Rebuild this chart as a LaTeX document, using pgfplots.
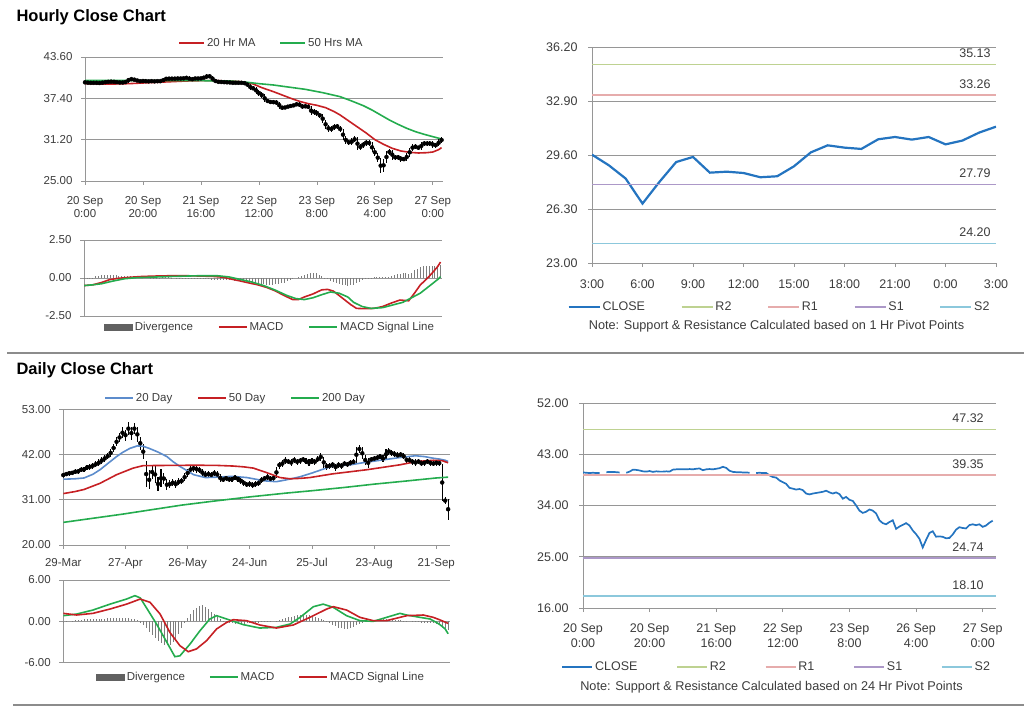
\documentclass[border=0pt]{standalone}
\usepackage{pgfplots}
\pgfplotsset{compat=1.18}
\usepackage{pgfplotstable}
\usepackage{fontspec}
\setmainfont{Liberation Sans}

\definecolor{maRed}{RGB}{198,32,36}
\definecolor{maGreen}{RGB}{36,172,78}
\definecolor{dayBlue}{RGB}{92,140,204}
\definecolor{closeBlue}{RGB}{36,116,192}
\definecolor{rTwo}{RGB}{190,210,145}
\definecolor{rOne}{RGB}{230,172,172}
\definecolor{sOne}{RGB}{172,152,200}
\definecolor{sTwo}{RGB}{140,200,220}
\definecolor{gridGray}{RGB}{150,150,150}
\definecolor{divGray}{RGB}{125,125,125}
\definecolor{sepGray}{RGB}{140,140,140}
\definecolor{txt}{RGB}{60,60,60}

\newcommand{\tickfont}{\fontsize{11.5}{13}\selectfont}
\newcommand{\legfont}{\fontsize{11.5}{13}\selectfont}

% hourly bars: hour, close, high, low, MACD divergence
\pgfplotstableread{
h c hi lo dv
0 39.80 40.00 39.60 -0.05
1 39.75 39.95 39.55 -0.04
2 39.70 39.95 39.50 -0.03
3 39.75 39.95 39.50 0.02
4 39.70 39.95 39.50 0.10
5 39.70 39.90 39.50 0.14
6 nan 39.95 39.55 0.17
7 39.85 40.05 39.60 0.20
8 39.90 40.10 39.65 0.22
9 39.90 40.10 39.70 0.22
10 39.85 40.10 39.65 0.20
11 39.80 40.05 39.60 0.18
12 nan 40.00 39.55 0.15
13 39.75 40.00 39.55 0.12
14 39.95 40.15 39.55 0.12
15 40.30 40.50 39.75 0.10
16 40.25 40.50 40.05 0.10
17 40.15 40.45 39.95 0.08
18 40.00 40.35 39.80 0.06
19 39.95 40.20 39.75 0.05
20 40.05 40.25 39.75 0.05
21 39.90 40.25 39.70 0.04
22 40.00 40.20 39.70 0.04
23 39.95 40.20 39.75 0.03
24 39.95 40.15 39.75 0.03
25 40.00 40.20 39.75 0.02
26 39.95 40.20 39.75 0.02
27 40.30 40.50 39.75 0.05
28 40.35 40.55 40.10 0.06
29 40.35 40.55 40.15 0.04
30 40.35 40.55 40.15 0.02
31 40.35 40.55 40.15 0.00
32 40.40 40.60 40.15 -0.02
33 40.35 40.60 40.15 -0.03
34 40.45 40.65 40.15 -0.04
35 40.50 40.70 40.25 -0.05
36 40.20 40.70 40.00 -0.05
37 40.35 40.55 40.00 -0.05
38 40.40 40.60 40.15 -0.06
39 40.35 40.60 40.15 -0.06
40 40.45 40.65 40.15 -0.07
41 40.55 40.75 40.25 -0.07
42 40.80 41.00 40.35 -0.08
43 40.60 41.00 40.40 -0.08
44 40.10 40.80 39.90 -0.10
45 39.90 40.30 39.70 -0.10
46 39.85 40.10 39.65 -0.12
47 39.85 40.05 39.65 -0.12
48 39.80 40.05 39.60 -0.13
49 39.80 40.00 39.60 -0.14
50 39.75 40.00 39.55 -0.15
51 nan 39.95 39.50 -0.16
52 39.70 39.95 39.50 -0.18
53 39.75 39.95 39.50 -0.20
54 39.70 39.95 39.50 -0.22
55 39.70 39.90 39.45 -0.25
56 39.30 39.90 39.05 -0.27
57 39.00 39.50 38.70 -0.30
58 38.90 39.20 38.60 -0.32
59 38.40 39.10 38.10 -0.35
60 38.10 38.60 37.80 -0.38
61 37.80 38.30 37.50 -0.40
62 37.10 38.00 36.80 -0.42
63 36.95 37.30 36.70 -0.44
64 36.80 37.15 36.55 -0.45
65 36.90 37.10 36.55 -0.44
66 36.70 37.10 36.45 -0.42
67 36.10 36.90 35.85 -0.40
68 35.95 36.30 35.70 -0.36
69 36.10 36.30 35.75 -0.30
70 36.20 36.40 35.90 -0.22
71 36.30 36.50 36.00 -0.15
72 36.40 36.60 36.10 -0.08
73 36.60 36.80 36.20 0.00
74 36.30 36.80 36.10 0.08
75 36.10 36.50 35.85 0.15
76 36.30 36.50 35.90 0.22
77 36.00 36.50 35.75 0.28
78 35.20 36.20 34.90 0.32
79 35.50 35.80 34.95 0.33
80 35.00 35.70 34.70 0.30
81 34.80 35.20 34.50 0.22
82 34.00 35.00 33.70 0.12
83 33.10 34.20 32.80 0.02
84 32.70 33.40 32.40 -0.08
85 32.90 33.20 32.40 -0.18
86 33.30 33.60 32.60 -0.28
87 33.10 33.60 32.80 -0.36
88 32.60 33.30 32.30 -0.42
89 31.40 32.80 31.10 -0.46
90 30.90 31.70 30.60 -0.48
91 30.70 31.20 30.40 -0.50
92 31.10 31.40 30.40 -0.48
93 31.40 31.70 30.80 -0.44
94 29.90 31.60 29.60 -0.36
95 30.30 30.60 29.60 -0.25
96 30.60 30.90 30.00 -0.15
97 30.90 31.20 30.30 -0.08
98 30.50 31.20 30.20 -0.02
99 29.62 30.80 29.30 0.03
100 28.97 29.90 28.70 0.06
101 28.16 29.20 27.80 0.08
102 26.63 28.40 26.20 0.08
103 27.95 28.30 26.40 0.07
104 29.17 29.50 27.70 0.06
105 29.48 29.80 28.90 0.08
106 28.52 29.70 28.20 0.12
107 28.58 28.90 28.20 0.18
108 28.50 28.90 28.20 0.24
109 28.24 28.80 27.90 0.28
110 28.30 28.60 27.95 0.30
111 28.91 29.20 28.00 0.30
112 29.76 30.00 28.60 0.28
113 30.19 30.50 29.50 0.35
114 30.05 30.50 29.80 0.50
115 29.97 30.30 29.70 0.62
116 30.56 30.80 29.70 0.72
117 30.70 30.95 30.30 0.78
118 30.54 30.95 30.30 0.80
119 30.70 30.95 30.30 0.82
120 30.25 30.95 30.00 0.80
121 30.48 30.75 30.00 0.78
122 30.97 31.25 30.20 0.82
123 31.33 31.60 30.70 0.85
}\hourly

% daily bars: day, close, high, low, MACD divergence
\pgfplotstableread{
d c hi lo dv
0 37.0 37.6 36.4 -0.2
1 37.2 37.8 36.7 -0.1
2 37.4 38.0 36.9 0.0
3 37.6 38.1 37.0 0.1
4 37.8 38.4 37.2 0.2
5 37.9 38.5 37.3 0.2
6 38.3 38.9 37.7 0.25
7 38.4 39.0 37.8 0.3
8 38.8 39.5 38.2 0.3
9 39.0 39.7 38.3 0.3
10 39.3 40.0 38.6 0.35
11 39.6 40.4 38.9 0.35
12 40.0 40.8 39.2 0.4
13 40.6 41.3 39.8 0.4
14 41.0 41.8 40.3 0.4
15 41.5 42.4 40.8 0.45
16 42.4 43.3 41.5 0.45
17 43.6 44.6 42.6 0.5
18 45.0 46.2 44.0 0.5
19 46.0 47.3 45.0 0.5
20 47.2 48.6 46.0 0.5
21 46.5 48.0 45.4 0.5
22 48.0 49.8 46.8 0.45
23 47.0 48.8 45.6 0.4
24 48.5 49.6 47.0 0.35
25 46.0 48.8 45.0 0.2
26 44.5 46.3 43.2 -0.2
27 42.0 44.6 40.8 -0.6
28 35.5 40.5 34.0 -1.0
29 37.0 38.2 33.5 -1.5
30 38.5 39.5 36.0 -2.0
31 36.0 39.3 35.0 -2.4
32 34.5 36.5 33.2 -2.8
33 37.0 38.5 34.0 -3.1
34 35.8 37.5 34.8 -3.4
35 34.5 36.0 33.3 -3.5
36 35.0 35.8 33.8 -3.4
37 35.2 36.0 34.3 -3.0
38 34.8 35.7 33.9 -2.5
39 35.3 36.2 34.5 -1.8
40 35.6 36.4 34.8 -1.0
41 36.5 37.4 35.6 -0.2
42 37.5 38.4 36.6 0.5
43 38.3 39.2 37.5 1.1
44 38.6 39.5 37.8 1.6
45 38.4 39.3 37.6 2.0
46 38.2 39.0 37.4 2.2
47 37.5 38.4 36.8 2.3
48 37.0 37.9 36.3 2.1
49 37.2 38.0 36.5 1.8
50 37.0 37.8 36.3 1.4
51 37.4 38.2 36.7 1.0
52 37.1 37.9 36.4 0.6
53 36.0 37.2 35.4 0.3
54 35.8 36.6 35.2 0.1
55 36.2 36.9 35.6 -0.1
56 35.9 36.6 35.3 -0.2
57 36.0 36.7 35.4 -0.3
58 36.3 37.0 35.7 -0.35
59 36.0 36.8 35.4 -0.4
60 35.5 36.3 34.9 -0.4
61 35.0 35.8 34.4 -0.35
62 34.6 35.4 34.0 -0.3
63 34.8 35.5 34.2 -0.3
64 34.5 35.2 33.9 -0.25
65 34.8 35.5 34.2 -0.2
66 35.0 35.7 34.4 -0.2
67 35.8 36.5 35.1 -0.15
68 36.2 36.9 35.5 -0.1
69 36.5 37.2 35.8 -0.1
70 36.0 36.8 35.4 -0.05
71 36.3 37.0 35.6 0.0
72 38.0 38.9 36.4 0.1
73 39.5 40.3 38.6 0.2
74 39.8 40.6 39.0 0.3
75 40.5 41.3 39.7 0.45
76 40.3 41.0 39.6 0.6
77 40.0 40.8 39.3 0.7
78 40.6 41.4 39.9 0.8
79 40.2 41.0 39.5 0.9
80 40.5 41.2 39.8 0.95
81 40.8 41.5 40.1 1.0
82 40.3 41.1 39.6 0.95
83 40.0 40.8 39.3 0.9
84 40.5 41.2 39.8 0.8
85 40.2 41.0 39.5 0.7
86 40.8 41.6 40.1 0.55
87 41.2 42.4 40.4 0.4
88 39.5 41.5 38.7 0.2
89 39.0 40.0 38.3 -0.1
90 39.2 40.0 38.5 -0.3
91 39.5 40.3 38.8 -0.5
92 38.8 39.8 38.1 -0.7
93 39.5 40.2 38.8 -0.9
94 39.2 40.0 38.5 -1.0
95 39.8 40.5 39.1 -1.1
96 39.6 40.3 38.9 -1.1
97 40.0 40.7 39.3 -1.0
98 40.2 40.9 39.5 -0.8
99 43.0 43.9 40.0 -0.6
100 43.5 44.3 42.4 -0.4
101 41.5 43.8 40.8 -0.2
102 40.2 41.9 39.4 -0.1
103 40.5 41.2 38.8 0.0
104 40.8 41.5 40.1 0.1
105 41.0 41.7 40.3 0.15
106 41.2 41.9 40.5 0.2
107 41.5 42.2 40.8 0.25
108 41.0 41.8 40.3 0.3
109 42.5 43.3 40.8 0.3
110 42.8 43.5 42.0 0.3
111 42.3 43.1 41.6 0.3
112 42.0 42.8 41.3 0.25
113 41.8 42.5 41.1 0.2
114 42.0 42.7 41.3 0.15
115 41.5 42.3 40.8 0.1
116 40.5 41.6 39.8 0.05
117 40.6 41.3 39.9 0.0
118 40.2 41.0 39.5 -0.05
119 40.0 40.8 39.3 -0.1
120 40.3 41.0 39.6 -0.15
121 39.8 40.6 39.1 -0.2
122 40.0 40.7 39.3 -0.2
123 40.3 41.0 39.6 -0.2
124 40.0 40.7 39.3 -0.25
125 39.8 40.5 39.1 -0.3
126 40.0 40.7 39.3 -0.4
127 40.0 40.6 39.2 -0.6
128 31.0 39.8 30.6 -0.8
129 30.8 31.6 30.0 -1.0
130 29.5 31.2 26.2 -1.2
}\daily

\pgfplotsset{
  chart/.style={
    scale only axis,
    axis lines*=left,
    axis line style={draw=gridGray, line width=0.8pt},
    ymajorgrids,
    major grid style={draw=gridGray, line width=0.8pt},
    tick align=outside,
    major tick length=4pt,
    major tick style={draw=gridGray, line width=0.8pt},
    tick label style={font=\tickfont, text=txt},
    yticklabel style={/pgf/number format/fixed, /pgf/number format/fixed zerofill,
      /pgf/number format/precision=2, /pgf/number format/assume math mode=true},
    legend columns=-1,
    legend style={draw=none, fill=none, font=\legfont, text=txt, anchor=center},
    legend image code/.code={\draw[##1] (0pt,0pt) -- (28pt,0pt);},
  },
  ohlc/.style={only marks, mark=none, forget plot,
    error bars/.cd, y dir=both, y explicit, error mark=none,
    error bar style={black, line width=0.95pt}},
  divbar/.style={legend image code/.code={\fill[black!62] (0pt,-2.8pt) rectangle (28pt,2.8pt);}},
}

\begin{document}
\begin{tikzpicture}[x=1pt,y=1pt]
\useasboundingbox (0,0) rectangle (1024,706);

% titles and separators
\node[anchor=base west, font=\bfseries\fontsize{16.5}{18}\selectfont] at (13,684) {Hourly Close Chart};
\node[anchor=base west, font=\bfseries\fontsize{16.5}{18}\selectfont] at (13,331) {Daily Close Chart};
\draw[sepGray, line width=2pt] (7,353.3) -- (1024,353.3);
\draw[sepGray, line width=2pt] (13,1.5) -- (1024,1.5);

% ---------- hourly price ----------
\begin{axis}[chart, at={(85pt,525pt)}, anchor=south west,
  width=358pt, height=124pt,
  xmin=0, xmax=123.5, ymin=25, ymax=43.6,
  ytick={25,31.2,37.4,43.6},
  xtick={0,20,...,120},
  xticklabels={{20 Sep\\0:00},{20 Sep\\20:00},{21 Sep\\16:00},{22 Sep\\12:00},{23 Sep\\8:00},{26 Sep\\4:00},{27 Sep\\0:00}},
  xticklabel style={align=center, yshift=-8pt},
  yticklabel style={xshift=-5pt},
  legend style={at={(0.521,1.113)}, /tikz/every even column/.append style={column sep=22pt}},
  legend image code/.code={\draw[#1] (0pt,0pt) -- (25pt,0pt);},
]
\addplot[ohlc] table[x=h, y expr={(\thisrow{hi}+\thisrow{lo})/2}, y error expr={(\thisrow{hi}-\thisrow{lo})/2}] {\hourly};
\addplot[maRed, line width=1.6pt] coordinates {
(0,39.6) (5,39.55) (10,39.55) (15,39.6) (20,39.7) (25,39.8) (30,39.9) (35,40.0) (40,40.05) (45,40.05) (50,40.0) (54,39.9) (58,39.55) (61,39.0) (65,38.4) (68,37.9) (71,37.4) (74,36.95) (77,36.6) (80,36.35) (83,36.0) (86,35.4) (88,34.9) (91,34.0) (94,33.1) (97,32.2) (100,31.2) (103,30.5) (106,29.9) (109,29.5) (112,29.3) (115,29.2) (118,29.25) (120,29.35) (122,29.7) (123,30.0)};
\addlegendentry{20 Hr MA}
\addplot[maGreen, line width=1.6pt] coordinates {
(0,40.1) (10,40.1) (20,40.05) (30,40.05) (40,40.05) (50,40.0) (55,39.85) (60,39.6) (65,39.4) (70,39.1) (76,38.75) (82,38.25) (88,37.65) (92,37.0) (96,36.3) (99,35.65) (102,34.9) (105,34.15) (108,33.5) (111,32.9) (114,32.4) (117,32.0) (120,31.65) (123,31.3)};
\addlegendentry{50 Hrs MA}
\end{axis}

% ---------- hourly MACD ----------
\begin{axis}[chart, at={(84pt,390pt)}, anchor=south west,
  width=358pt, height=76pt,
  xmin=0, xmax=123.5, ymin=-2.5, ymax=2.5,
  ytick={-2.5,0,2.5}, xtick=\empty,
  yticklabel style={xshift=-5pt},
  legend style={at={(0.52,-0.145)}, /tikz/every even column/.append style={column sep=23pt}},
]
\addplot[ycomb, divGray, line width=0.6pt, divbar] table[x=h, y=dv] {\hourly};
\addlegendentry{Divergence}
\addplot[maRed, line width=1.6pt] coordinates {
(0,-0.5) (3,-0.45) (6,-0.3) (9,-0.1) (12,-0.02) (16,0.05) (20,0.1) (25,0.13) (30,0.15) (35,0.15) (40,0.13) (45,0.1) (48,0.05) (51,-0.08) (54,-0.2) (57,-0.33) (60,-0.45) (63,-0.62) (66,-0.85) (69,-1.15) (72,-1.42) (74,-1.42) (76,-1.25) (79,-1.05) (82,-0.78) (84,-0.75) (86,-0.86) (88,-1.15) (90,-1.45) (92,-1.75) (94,-2.0) (97,-2.02) (100,-2.0) (103,-1.88) (106,-1.65) (109,-1.45) (112,-1.5) (114,-1.0) (116,-0.46) (118,-0.1) (120,0.3) (122,0.75) (123,1.05)};
\addlegendentry{MACD}
\addplot[maGreen, line width=1.6pt] coordinates {
(0,-0.5) (3,-0.45) (6,-0.38) (10,-0.2) (14,-0.05) (18,0.02) (24,0.06) (30,0.1) (40,0.15) (46,0.15) (50,0.07) (54,-0.1) (58,-0.27) (62,-0.5) (66,-0.8) (70,-1.15) (73,-1.35) (76,-1.42) (79,-1.3) (82,-1.1) (85,-0.92) (88,-1.0) (91,-1.25) (93,-1.6) (96,-1.88) (99,-2.0) (103,-1.95) (107,-1.75) (110,-1.6) (113,-1.3) (116,-1.0) (118,-0.7) (120,-0.4) (122,-0.1) (123,0.08)};
\addlegendentry{MACD Signal Line}
\end{axis}

% ---------- hourly pivots ----------
\begin{axis}[chart, at={(592pt,443pt)}, anchor=south west,
  width=404pt, height=216pt,
  xmin=0, xmax=24, ymin=23, ymax=36.2,
  ytick={23,26.3,29.6,32.9,36.2},
  xtick={0,3,...,24},
  xticklabels={3:00,6:00,9:00,12:00,15:00,18:00,21:00,0:00,3:00},
  tick label style={font=\fontsize{12.5}{14}\selectfont},
  xticklabel style={yshift=-9pt},
  yticklabel style={xshift=-7pt},
  legend style={at={(0.464,-0.204)}, font=\fontsize{12.5}{14}\selectfont, /tikz/every even column/.append style={column sep=34pt}},
  legend image code/.code={\draw[#1] (0pt,0pt) -- (31pt,0pt);},
]
\addplot[closeBlue, line width=2.2pt] coordinates {
(0,29.62) (1,28.97) (2,28.16) (3,26.63) (4,27.95) (5,29.17) (6,29.48) (7,28.52) (8,28.58) (9,28.50) (10,28.24) (11,28.30) (12,28.91) (13,29.76) (14,30.19) (15,30.05) (16,29.97) (17,30.56) (18,30.70) (19,30.54) (20,30.70) (21,30.25) (22,30.48) (23,30.97) (24,31.33)};
\addlegendentry{CLOSE}
\addplot[rTwo, line width=1.5pt] coordinates {(0,35.13) (24,35.13)};
\addlegendentry{R2}
\addplot[rOne, line width=1.5pt] coordinates {(0,33.26) (24,33.26)};
\addlegendentry{R1}
\addplot[sOne, line width=1.5pt] coordinates {(0,27.79) (24,27.79)};
\addlegendentry{S1}
\addplot[sTwo, line width=1.5pt] coordinates {(0,24.20) (24,24.20)};
\addlegendentry{S2}
\node[font=\fontsize{12.5}{14}\selectfont, text=txt, anchor=base] at (axis cs:22.75,35.13) [yshift=7pt] {35.13};
\node[font=\fontsize{12.5}{14}\selectfont, text=txt, anchor=base] at (axis cs:22.75,33.26) [yshift=7pt] {33.26};
\node[font=\fontsize{12.5}{14}\selectfont, text=txt, anchor=base] at (axis cs:22.75,27.79) [yshift=7pt] {27.79};
\node[font=\fontsize{12.5}{14}\selectfont, text=txt, anchor=base] at (axis cs:22.75,24.20) [yshift=7pt] {24.20};
\end{axis}
\node[font=\fontsize{12.7}{14}\selectfont, text=txt] at (776.5,380) {Note: Support \& Resistance Calculated based on 1 Hr Pivot Points};

% ---------- daily price ----------
\begin{axis}[chart, at={(63.3pt,161pt)}, anchor=south west,
  width=386.3pt, height=135.7pt,
  xmin=0, xmax=130.5, ymin=20, ymax=53,
  ytick={20,31,42,53},
  xtick={0,21,...,126},
  xticklabels={29-Mar,27-Apr,26-May,24-Jun,25-Jul,23-Aug,21-Sep},
  xticklabel style={yshift=-6pt},
  yticklabel style={xshift=-5pt},
  legend style={at={(0.446,1.083)}, /tikz/every even column/.append style={column sep=23pt}},
]
\addplot[ohlc, error bar style={line width=1.1pt}] table[x=d, y expr={(\thisrow{hi}+\thisrow{lo})/2}, y error expr={(\thisrow{hi}-\thisrow{lo})/2}] {\daily};
\addplot[dayBlue, line width=1.6pt] coordinates {
(0,36.0) (4,36.1) (7,36.3) (10,37.2) (12.4,38.3) (15,39.8) (18,41.5) (20,42.5) (22.5,43.5) (25,44.1) (27,44.0) (29,43.5) (32,42.6) (35,41.5) (37,40.3) (39.4,39.1) (42,38.0) (44,37.1) (48,36.4) (52,36.5) (57,36.7) (62,36.4) (65,36.0) (68,35.6) (72,35.4) (75,35.8) (77,36.1) (80,36.6) (84,37.5) (88,38.5) (91,39.2) (97,39.5) (102,40.1) (108,40.7) (114,41.3) (119,41.7) (122,41.5) (125,41.1) (127,40.9) (129,40.6) (130,40.3)};
\addlegendentry{20 Day}
\addplot[maRed, line width=1.6pt] coordinates {
(0,32.5) (4,33.0) (7,33.5) (12.4,35.0) (18,37.1) (23.6,38.7) (27,39.3) (35,39.35) (45,39.4) (52,39.35) (57.4,39.2) (61,39.0) (64.2,38.7) (68.7,37.6) (73.2,36.4) (76.6,36.1) (80,36.2) (83.3,36.4) (91,37.3) (102.5,38.3) (113.7,39.5) (119.4,40.3) (125,40.6) (128,40.5) (130,40.0)};
\addlegendentry{50 Day}
\addplot[maGreen, line width=1.6pt] coordinates {
(0,25.5) (10,26.5) (20,27.5) (30,28.6) (40,29.7) (50,30.6) (63,31.7) (75,32.6) (84,33.2) (95,34.0) (105,34.8) (115,35.5) (126,36.3) (130,36.5)};
\addlegendentry{200 Day}
\end{axis}

% ---------- daily MACD ----------
\begin{axis}[chart, at={(63.3pt,43.3pt)}, anchor=south west,
  width=386.3pt, height=82.7pt,
  xmin=0, xmax=130.5, ymin=-6, ymax=6,
  ytick={-6,0,6}, xtick=\empty,
  yticklabel style={xshift=-5pt},
  legend style={at={(0.512,-0.173)}, /tikz/every even column/.append style={column sep=22pt}},
]
\addplot[ycomb, divGray, line width=0.6pt, divbar] table[x=d, y=dv] {\daily};
\addlegendentry{Divergence}
\addplot[maGreen, line width=1.6pt] coordinates {
(0,0.82) (4.5,1.06) (10,1.64) (15.8,2.5) (21.4,3.24) (24.2,3.73) (26,3.4) (28,2.03) (31.5,-0.39) (35,-3.05) (37.7,-5.13) (39.4,-5.0) (42.8,-3.3) (46.2,-1.35) (49.5,0.34) (51.8,0.82) (55.2,0.34) (60.8,-0.48) (66.4,-0.97) (72,-0.87) (76.6,-0.39) (80,0.58) (84.5,2.13) (87.8,2.5) (91.2,2.03) (95.7,0.82) (100.2,0.1) (104.7,0) (109.2,0.58) (113.7,1.16) (116,0.92) (120.5,0.58) (123.9,0.34) (126,-0.15) (127.3,-0.5) (129,-1.1) (130,-1.8)};
\addlegendentry{MACD}
\addplot[maRed, line width=1.6pt] coordinates {
(0,1.16) (4.5,0.92) (10,1.16) (15.8,1.79) (21.4,2.5) (26,3.24) (29.3,2.76) (32.7,1.06) (36,-1.6) (39.4,-3.53) (42.2,-4.4) (45,-4.0) (48.4,-2.8) (51.8,-1.1) (55.2,-0.15) (57.4,0.24) (61.9,0.1) (66.4,-0.53) (72,-0.97) (77.7,-0.53) (83.3,0.58) (89,1.79) (91.2,2.13) (95.7,1.64) (100.2,0.58) (104.7,0.1) (109.2,0.1) (116,0.82) (121.6,0.92) (125,0.58) (127.3,0.2) (130,-0.3)};
\addlegendentry{MACD Signal Line}
\end{axis}

% ---------- daily pivots ----------
\begin{axis}[chart, at={(583pt,98pt)}, anchor=south west,
  width=413pt, height=205pt,
  xmin=0, xmax=124, ymin=16, ymax=52,
  ytick={16,25,34,43,52},
  unbounded coords=jump,
  xtick={0,20,...,120},
  xticklabels={{20 Sep\\0:00},{20 Sep\\20:00},{21 Sep\\16:00},{22 Sep\\12:00},{23 Sep\\8:00},{26 Sep\\4:00},{27 Sep\\0:00}},
  tick label style={font=\fontsize{12.5}{15}\selectfont},
  xticklabel style={align=center, yshift=-8pt},
  yticklabel style={xshift=-7pt},
  legend style={at={(0.469,-0.288)}, font=\fontsize{12.5}{14}\selectfont, /tikz/every even column/.append style={column sep=37pt}},
  legend image code/.code={\draw[#1] (0pt,0pt) -- (30pt,0pt);},
]
\addplot[closeBlue, line width=1.7pt] table[x=h, y=c] {\hourly};
\addlegendentry{CLOSE}
\addplot[rTwo, line width=1.5pt] coordinates {(0,47.32) (124,47.32)};
\addlegendentry{R2}
\addplot[rOne, line width=1.5pt] coordinates {(0,39.35) (124,39.35)};
\addlegendentry{R1}
\addplot[sOne, line width=1.5pt] coordinates {(0,24.74) (124,24.74)};
\addlegendentry{S1}
\addplot[sTwo, line width=1.5pt] coordinates {(0,18.10) (124,18.10)};
\addlegendentry{S2}
\node[font=\fontsize{12.5}{14}\selectfont, text=txt, anchor=base] at (axis cs:115.6,47.32) [yshift=7pt] {47.32};
\node[font=\fontsize{12.5}{14}\selectfont, text=txt, anchor=base] at (axis cs:115.6,39.35) [yshift=7pt] {39.35};
\node[font=\fontsize{12.5}{14}\selectfont, text=txt, anchor=base] at (axis cs:115.6,24.74) [yshift=7pt] {24.74};
\node[font=\fontsize{12.5}{14}\selectfont, text=txt, anchor=base] at (axis cs:115.6,18.10) [yshift=7pt] {18.10};
\end{axis}
\node[font=\fontsize{12.7}{14}\selectfont, text=txt] at (771.5,19) {Note: Support \& Resistance Calculated based on 24 Hr Pivot Points};
\end{tikzpicture}
\end{document}
